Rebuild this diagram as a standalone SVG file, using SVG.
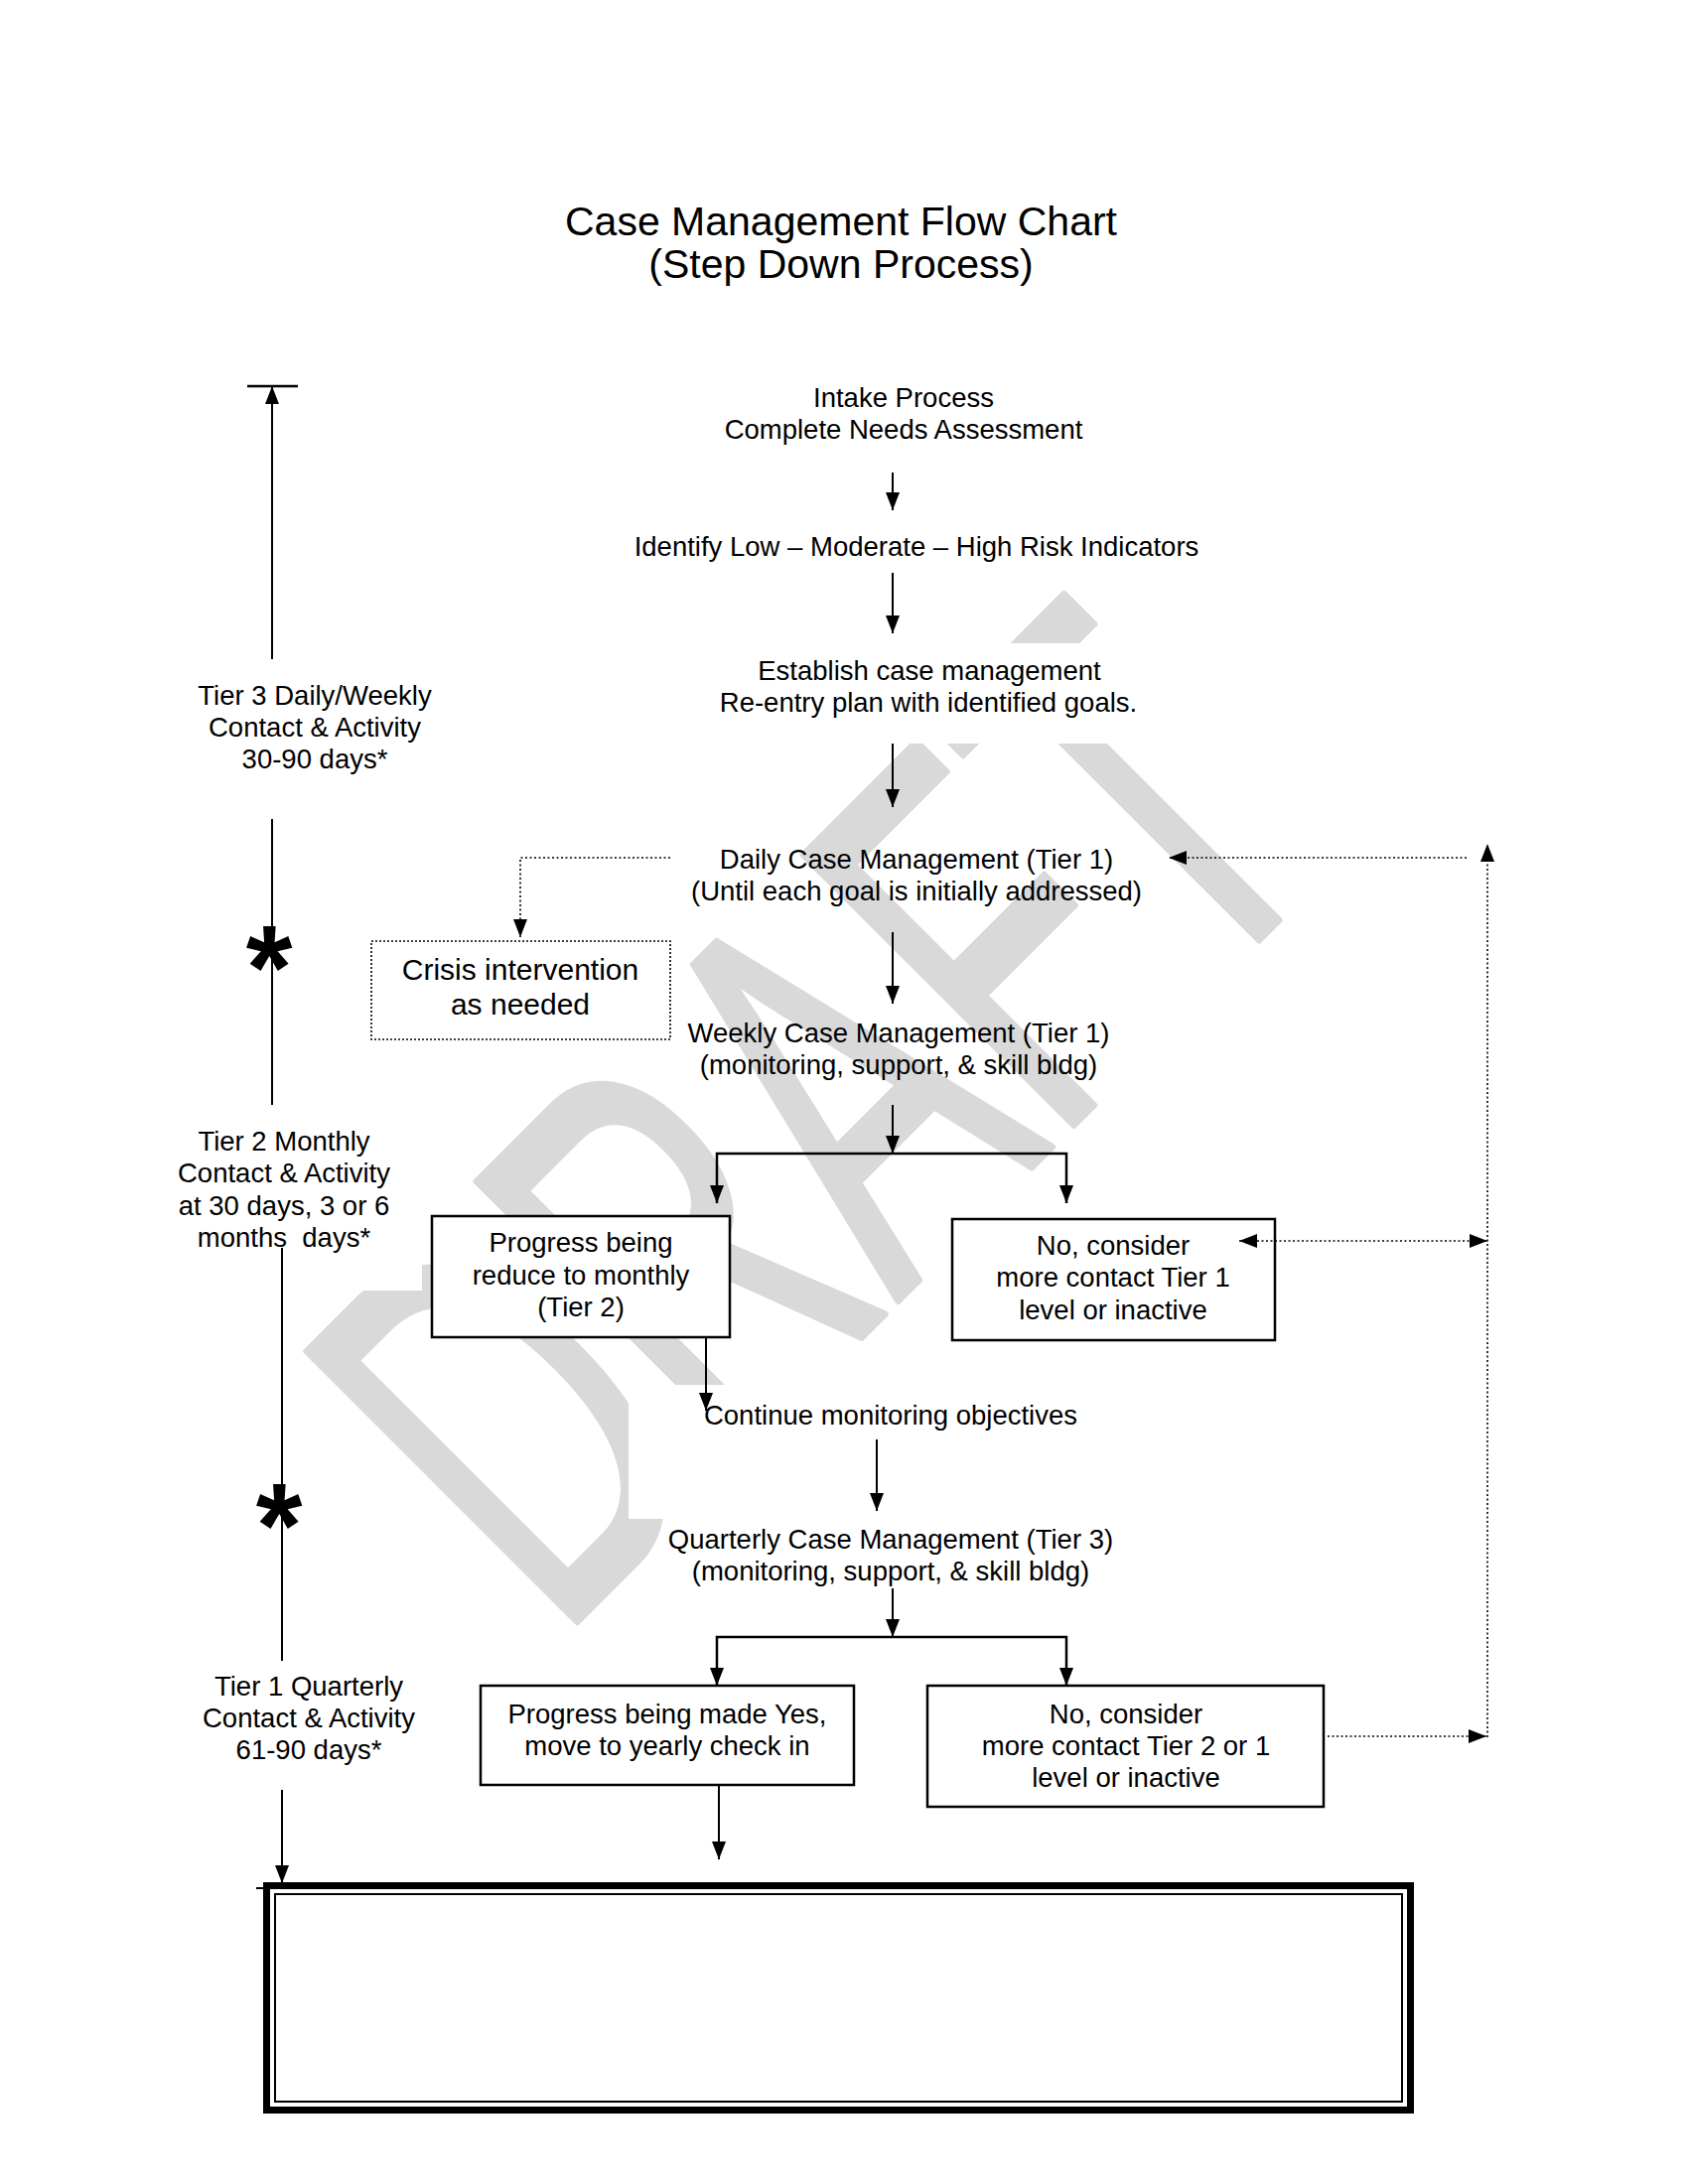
<svg xmlns="http://www.w3.org/2000/svg" width="1700" height="2200" viewBox="0 0 1700 2200">
<defs>
<style>
.t{font-family:"Liberation Sans",Arial,Helvetica,sans-serif;font-size:27.5px;fill:#000;text-anchor:middle}
.tc{font-size:30px}
.title{font-size:41px}
.star{font-family:"Liberation Sans",Arial,sans-serif;font-weight:bold;font-size:120px;text-anchor:middle;fill:#000}
.wm{font-family:"Liberation Sans",Arial,sans-serif;font-size:100px;fill:#d9d9d9;stroke:#d9d9d9;stroke-width:1.2;stroke-linejoin:round}
.ln{stroke:#000;stroke-width:2;fill:none}
.br{stroke:#000;stroke-width:2.5;fill:none}
.dot{stroke:#000;stroke-width:1.6;stroke-dasharray:2 2.5;fill:none}
.box{fill:#fff;stroke:#000;stroke-width:2.5}
.dbox{fill:#fff;stroke:#000;stroke-width:1.6;stroke-dasharray:2 2}
.occ{fill:#fff}
</style>
<marker id="ah" markerUnits="userSpaceOnUse" markerWidth="18" markerHeight="14" viewBox="0 0 18 14" refX="18" refY="7" orient="auto-start-reverse">
<path d="M0,0 L18,7 L0,14 Z" fill="#000"/>
</marker>
</defs>
<rect width="1700" height="2200" fill="#fff"/>

<g id="watermark" transform="translate(561,1654) rotate(-45) scale(3.35,5.6)">
<text class="wm" x="0" y="0">DRAFT</text>
</g>

<g id="title">
<text class="t title" x="847" y="237">Case Management Flow Chart</text>
<text class="t title" x="847" y="280">(Step Down Process)</text>
</g>

<g id="tier3">
<text class="t" x="317" y="710">Tier 3 Daily/Weekly</text>
<text class="t" x="317" y="742">Contact &amp; Activity</text>
<text class="t" x="317" y="774">30-90 days*</text>
</g>
<g id="tier2">
<path class="occ" d="M150,1120 H437 V1253 H425 V1300 H150 Z"/>
<text class="t" x="286" y="1159">Tier 2 Monthly</text>
<text class="t" x="286" y="1191">Contact &amp; Activity</text>
<text class="t" x="286" y="1224">at 30 days, 3 or 6</text>
<text class="t" x="286" y="1256" style="white-space:pre">months  days*</text>
</g>
<g id="tier1">
<text class="t" x="311" y="1708">Tier 1 Quarterly</text>
<text class="t" x="311" y="1740">Contact &amp; Activity</text>
<text class="t" x="311" y="1772">61-90 days*</text>
</g>
<g id="star1"><text class="star" x="271" y="1016">*</text></g>
<g id="star2"><text class="star" x="281" y="1578">*</text></g>

<g id="intake">
<text class="t" x="910" y="410">Intake Process</text>
<text class="t" x="910" y="442">Complete Needs Assessment</text>
</g>
<g id="identify">
<rect class="occ" x="620" y="528" width="620" height="45"/>
<text class="t" x="923" y="560">Identify Low – Moderate – High Risk Indicators</text>
</g>
<g id="establish">
<rect class="occ" x="690" y="648" width="490" height="101"/>
<text class="t" x="936" y="685">Establish case management</text>
<text class="t" x="935" y="717">Re-entry plan with identified goals.</text>
</g>
<g id="daily">
<text class="t" x="923" y="875">Daily Case Management (Tier 1)</text>
<text class="t" x="923" y="907">(Until each goal is initially addressed)</text>
</g>
<g id="crisis">
<rect class="dbox" x="374" y="948" width="301" height="99"/>
<text class="t tc" x="524" y="987">Crisis intervention</text>
<text class="t tc" x="524" y="1022">as needed</text>
</g>
<g id="weekly">
<text class="t" x="905" y="1050">Weekly Case Management (Tier 1)</text>
<text class="t" x="905" y="1082">(monitoring, support, &amp; skill bldg)</text>
</g>
<g id="progress1">
<rect class="box" x="435" y="1225" width="300" height="122"/>
<text class="t" x="585" y="1261">Progress being</text>
<text class="t" x="585" y="1294">reduce to monthly</text>
<text class="t" x="585" y="1326">(Tier 2)</text>
</g>
<g id="no1">
<rect class="box" x="959" y="1228" width="325" height="122"/>
<text class="t" x="1121" y="1264">No, consider</text>
<text class="t" x="1121" y="1296">more contact Tier 1</text>
<text class="t" x="1121" y="1329">level or inactive</text>
</g>
<g id="continue">
<rect class="occ" x="633" y="1395" width="527" height="135"/>
<text class="t" x="897" y="1435">Continue monitoring objectives</text>
</g>
<g id="quarterly">
<text class="t" x="897" y="1560">Quarterly Case Management (Tier 3)</text>
<text class="t" x="897" y="1592">(monitoring, support, &amp; skill bldg)</text>
</g>
<g id="progress2">
<rect class="box" x="484" y="1698" width="376" height="100"/>
<text class="t" x="672" y="1736">Progress being made Yes,</text>
<text class="t" x="672" y="1768">move to yearly check in</text>
</g>
<g id="no2">
<rect class="box" x="934" y="1698" width="399" height="122"/>
<text class="t" x="1134" y="1736">No, consider</text>
<text class="t" x="1134" y="1768">more contact Tier 2 or 1</text>
<text class="t" x="1134" y="1800">level or inactive</text>
</g>
<g id="final">
<rect x="268.5" y="1899.5" width="1152" height="226" fill="#fff" stroke="#000" stroke-width="7"/>
<rect x="277" y="1908" width="1135" height="209" fill="none" stroke="#000" stroke-width="2"/>
</g>

<g id="connectors">
<line class="br" x1="249" y1="389" x2="300" y2="389"/>
<line class="ln" x1="274" y1="664" x2="274" y2="389" marker-end="url(#ah)"/>
<line class="ln" x1="274" y1="825" x2="274" y2="1113"/>
<line class="ln" x1="284" y1="1257" x2="284" y2="1673"/>
<line class="ln" x1="284" y1="1803" x2="284" y2="1897" marker-end="url(#ah)"/>
<line class="ln" x1="258" y1="1902" x2="306" y2="1902"/>

<line class="ln" x1="899" y1="476" x2="899" y2="514" marker-end="url(#ah)"/>
<line class="ln" x1="899" y1="577" x2="899" y2="638" marker-end="url(#ah)"/>
<line class="ln" x1="899" y1="749" x2="899" y2="813" marker-end="url(#ah)"/>
<line class="ln" x1="899" y1="939" x2="899" y2="1011" marker-end="url(#ah)"/>
<line class="ln" x1="899" y1="1113" x2="899" y2="1162" marker-end="url(#ah)"/>
<path class="br" d="M899,1162 H722 V1212" marker-end="url(#ah)"/>
<path class="br" d="M899,1162 H1074 V1212" marker-end="url(#ah)"/>
<line class="ln" x1="711" y1="1347" x2="711" y2="1421" marker-end="url(#ah)"/>
<line class="ln" x1="883" y1="1450" x2="883" y2="1522" marker-end="url(#ah)"/>
<line class="ln" x1="899" y1="1600" x2="899" y2="1649" marker-end="url(#ah)"/>
<path class="br" d="M899,1649 H722 V1698" marker-end="url(#ah)"/>
<path class="br" d="M899,1649 H1074 V1698" marker-end="url(#ah)"/>
<line class="ln" x1="724" y1="1798" x2="724" y2="1873" marker-end="url(#ah)"/>

<path class="dot" d="M675,864 H524 V944" marker-end="url(#ah)"/>
<line class="dot" x1="1498" y1="1750" x2="1498" y2="850" marker-end="url(#ah)"/>
<line class="dot" x1="1477" y1="864" x2="1177" y2="864" marker-end="url(#ah)"/>
<line class="dot" x1="1248" y1="1250" x2="1498" y2="1250" marker-start="url(#ah)" marker-end="url(#ah)"/>
<line class="dot" x1="1337" y1="1749" x2="1497" y2="1749" marker-end="url(#ah)"/>
</g>
</svg>
